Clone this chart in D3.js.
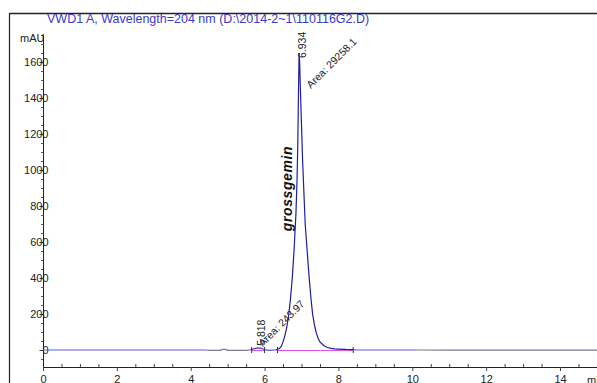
<!DOCTYPE html>
<html>
<head>
<meta charset="utf-8">
<script src="https://cdn.jsdelivr.net/npm/d3@7"></script>
<style>
  html, body { margin: 0; padding: 0; background: #fff; }
  svg { display: block; font-family: "Liberation Sans", Arial, sans-serif; }
</style>
</head>
<body>
<svg id="chart" width="597" height="383"></svg>
<script>
// Chromatogram trace: retention time (min) and detector response (mAU)
const times = [0, 1, 2, 3, 4, 4.4, 4.5, 4.8, 4.85, 4.95, 5.0, 5.5, 5.6, 5.7, 5.8, 5.9, 6.0, 6.1, 6.3,
  6.4, 6.45, 6.5, 6.55, 6.6, 6.65, 6.7, 6.75, 6.8, 6.85, 6.88, 6.9, 6.92, 6.934, 6.95, 6.97,
  7.0, 7.03, 7.07, 7.1, 7.15, 7.2, 7.25, 7.3, 7.35, 7.4, 7.45, 7.5, 7.6, 7.7, 7.8, 7.9, 8.0,
  8.2, 8.4, 8.5, 9, 10, 10.1, 11, 12, 13, 14, 15.2];
const signal = [0, 0, 0, 0, 0, 0, -2, -2, 3, 3, -2, -2, 0, 6, 12, 10, 3, -2, 0,
  8, 20, 45, 80, 125, 190, 280, 400, 560, 760, 950, 1150, 1450, 1650, 1600, 1450,
  1250, 1050, 850, 700, 560, 420, 300, 200, 140, 95, 65, 45, 25, 14, 9, 6, 5,
  3, 2, 0, 0, 0, 0, -1, -1, -1, -1, -1];

// Time ranges drawn in each trace colour
const segStart = [0, 4.4, 5.6, 6.3, 8.4, 10.1];
const segEnd = [4.4, 5.6, 6.3, 8.4, 10.1, 15.2];
const segColor = ["#5c5cd4", "#7a7a8c", "#4a4acc", "#1e1ea0", "#5c5cd4", "#7a7a8c"];

// Integration baselines and peak start/end markers
const baseFrom = [5.65, 6.35];
const baseTo = [6.0, 8.4];
const markers = [5.65, 6.0, 6.35, 8.4];

// Axis ticks
const yTicks = [0, 200, 400, 600, 800, 1000, 1200, 1400, 1600];
const xTicks = [0, 2, 4, 6, 8, 10, 12, 14];

// Peak annotations
const peakTimes = [5.818, 6.934];
const peakLabels = ["5.818", "6.934"];
const peakAreas = ["Area: 243.97", "Area: 29258.1"];
const compoundName = "grossgemin";
const title = "VWD1 A, Wavelength=204 nm (D:\\2014-2~1\\110116G2.D)";

const svg = d3.select("#chart");
const x = d3.scaleLinear().domain([0, 14]).range([43, 560]);
const y = d3.scaleLinear().domain([0, 1600]).range([350, 62]);
const axisY = 367;

// Outer frame
svg.append("line").attr("x1", 9.5).attr("x2", 597).attr("y1", 13.5).attr("y2", 13.5)
  .attr("stroke", "#222").attr("stroke-width", 1.5);
svg.append("line").attr("x1", 9.5).attr("x2", 9.5).attr("y1", 13).attr("y2", 383)
  .attr("stroke", "#222").attr("stroke-width", 1.2);

// Title
svg.append("text").attr("x", 47).attr("y", 22.5).attr("fill", "#3a3ac8")
  .attr("font-size", 12.5).text(title);

// Y axis
const yAxis = d3.axisLeft(y).tickValues(yTicks).tickSize(4).tickPadding(-9).tickFormat(d3.format("d"));
const gy = svg.append("g").attr("transform", "translate(43.5,0)").call(yAxis);
gy.select(".domain").remove();
gy.selectAll("text").attr("font-size", 11).attr("fill", "#222")
  .attr("font-family", "Liberation Sans, Arial, sans-serif");
gy.selectAll("line").attr("stroke", "#333");
svg.append("line").attr("x1", 43.5).attr("x2", 43.5).attr("y1", 35).attr("y2", axisY)
  .attr("stroke", "#222").attr("stroke-width", 1);
// minor y ticks every 50 mAU
svg.append("g").selectAll("line").data(d3.range(-50, 1751, 50).filter(v => v % 200 !== 0))
  .join("line").attr("x1", 41).attr("x2", 43.5).attr("y1", d => y(d) + 0.5).attr("y2", d => y(d) + 0.5)
  .attr("stroke", "#555").attr("stroke-width", 1);
svg.append("text").attr("x", 20).attr("y", 42).attr("font-size", 11).attr("fill", "#222").text("mAU");

// X axis
svg.append("line").attr("x1", 43).attr("x2", 597).attr("y1", axisY + 0.5).attr("y2", axisY + 0.5)
  .attr("stroke", "#222");
svg.append("g").selectAll("line").data(d3.range(0, 15.5, 0.5))
  .join("line").attr("x1", d => x(d) + 0.5).attr("x2", d => x(d) + 0.5)
  .attr("y1", d => d % 2 === 0 ? axisY + 4 : axisY - 3).attr("y2", axisY)
  .attr("stroke", "#444");
const xAxis = d3.axisBottom(x).tickValues(xTicks).tickSize(0).tickPadding(8).tickFormat(d3.format("d"));
const gx = svg.append("g").attr("transform", `translate(0,${axisY})`).call(xAxis);
gx.select(".domain").remove();
gx.selectAll("text").attr("font-size", 11).attr("fill", "#222")
  .attr("font-family", "Liberation Sans, Arial, sans-serif");
svg.append("text").attr("x", 587).attr("y", 384).attr("font-size", 11).attr("fill", "#222").text("min");

// Integration baselines
const pts = times.map((t, i) => [t, signal[i]]);
svg.append("g").selectAll("line").data(baseFrom).join("line")
  .attr("x1", d => x(d)).attr("x2", (d, i) => x(baseTo[i]))
  .attr("y1", y(0) + 0.5).attr("y2", y(0) + 0.5)
  .attr("stroke", "#e055e0").attr("stroke-width", 1.2);

// Signal trace
const line = d3.line().x(d => x(d[0])).y(d => y(d[1]));
segStart.forEach((a, i) => {
  const seg = pts.filter(p => p[0] >= a && p[0] <= segEnd[i]);
  svg.append("path").attr("d", line(seg)).attr("fill", "none")
    .attr("stroke", segColor[i]).attr("stroke-width", 1.2);
});

// Peak start/end markers
svg.append("g").selectAll("line").data(markers).join("line")
  .attr("x1", d => x(d)).attr("x2", d => x(d))
  .attr("y1", y(0) - 3).attr("y2", y(0) + 3)
  .attr("stroke", "#333").attr("stroke-width", 1);

// Retention time labels (vertical), placed at the apex of each peak
const apexValues = [12, 1650];
peakTimes.forEach((t, i) => {
  svg.append("text")
    .attr("transform", `translate(${x(t) + 7},${y(apexValues[i]) + (i === 1 ? 5 : -2)}) rotate(-90)`)
    .attr("font-size", 10.5).attr("fill", "#222").text(peakLabels[i]);
});

// Area labels (diagonal)
svg.append("text").attr("transform", `translate(${x(5.95)},${y(5) - 2}) rotate(-45)`)
  .attr("font-size", 10.5).attr("fill", "#222").text(peakAreas[0]);
svg.append("text").attr("transform", `translate(${x(7.25)},${y(1450)}) rotate(-45)`)
  .attr("font-size", 10.5).attr("fill", "#222").text(peakAreas[1]);

// Compound name
svg.append("text").attr("transform", `translate(${x(6.75)},${y(660)}) rotate(-90)`)
  .attr("font-size", 14).attr("font-weight", "bold").attr("font-style", "italic")
  .attr("letter-spacing", 0.6).attr("fill", "#111").text(compoundName);
</script>
</body>
</html>
